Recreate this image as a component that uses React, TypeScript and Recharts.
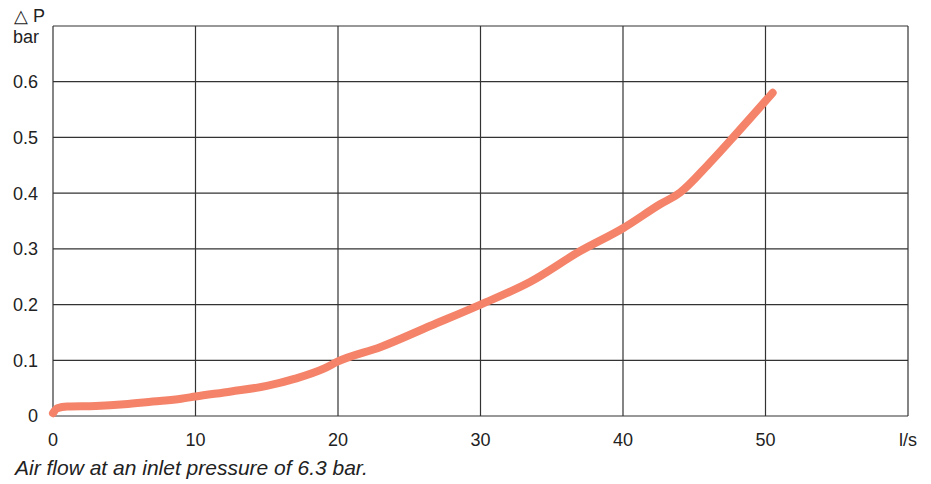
import React from 'react';
import { LineChart, Line, XAxis, YAxis, CartesianGrid } from 'recharts';

// Pressure drop vs air flow
const FLOW = [0, 0.3, 1, 3, 5, 7, 9, 10, 12.5, 15, 17, 19, 20, 23, 26.5, 30, 33.5, 37, 40, 42.6, 44, 46, 48, 50.5];
const DELTA_P = [0.005, 0.014, 0.017, 0.018, 0.021, 0.026, 0.031, 0.035, 0.044, 0.054, 0.067, 0.085, 0.098, 0.124, 0.162, 0.2, 0.241, 0.296, 0.337, 0.38, 0.401, 0.452, 0.508, 0.58];

const X_TICKS = [0, 10, 20, 30, 40, 50, 60];
const Y_TICKS = [0, 0.1, 0.2, 0.3, 0.4, 0.5, 0.6, 0.7];

const data = FLOW.map((f, i) => ({ flow: f, dp: DELTA_P[i] }));

const FONT = 'Arial, "Liberation Sans", Helvetica, sans-serif';

export default function App() {
  return (
    <div style={{ position: 'absolute', left: 0, top: 0, width: 931, height: 484, background: '#fff', fontFamily: FONT }}>
      <LineChart width={931} height={484} data={data} margin={{ top: 26, right: 23, left: 0, bottom: 0 }}>
        <CartesianGrid stroke="#333" strokeWidth={1.2} horizontalValues={Y_TICKS} verticalValues={X_TICKS} />
        <XAxis
          type="number"
          dataKey="flow"
          domain={[0, 60]}
          ticks={X_TICKS}
          height={68}
          axisLine={false}
          tickLine={false}
          tickSize={0}
          tickMargin={17}
          tick={{ fill: '#222', fontSize: 18, fontFamily: FONT }}
          tickFormatter={(v: number) => (v === 60 ? 'l/s' : String(v))}
        />
        <YAxis
          type="number"
          domain={[0, 0.7]}
          ticks={Y_TICKS}
          width={53}
          axisLine={false}
          tickLine={false}
          tickSize={0}
          tickMargin={15}
          tick={{ fill: '#222', fontSize: 18, fontFamily: FONT }}
          tickFormatter={(v: number) => (v >= 0.69 ? '' : v === 0 ? '0' : v.toFixed(1))}
        />
        <Line
          type="monotone"
          dataKey="dp"
          stroke="#F4836A"
          strokeWidth={8}
          strokeLinecap="round"
          dot={false}
          activeDot={false}
          isAnimationActive={false}
        />
      </LineChart>
      <div style={{ position: 'absolute', left: 14, top: 6, fontSize: 18, color: '#222', lineHeight: '20px' }}>△ P</div>
      <div style={{ position: 'absolute', left: 13, top: 27, fontSize: 18, color: '#222', lineHeight: '20px' }}>bar</div>
      <div style={{ position: 'absolute', left: 15, top: 456, fontSize: 21, fontStyle: 'italic', color: '#222', lineHeight: '24px' }}>
        Air flow at an inlet pressure of 6.3 bar.
      </div>
    </div>
  );
}
